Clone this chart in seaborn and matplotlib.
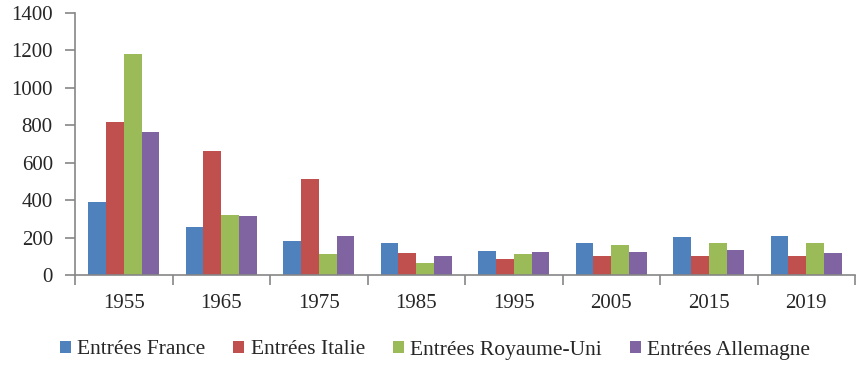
import matplotlib
matplotlib.use("Agg")
import matplotlib.pyplot as plt
import seaborn as sns
import pandas as pd
import numpy as np
from matplotlib.ticker import FixedLocator, NullFormatter

years = ["1955", "1965", "1975", "1985", "1995", "2005", "2015", "2019"]
france = [392, 258, 180, 173, 130, 173, 205, 210]
italie = [819, 663, 514, 120, 88, 104, 104, 104]
royaume_uni = [1182, 322, 113, 66, 113, 162, 172, 172]
allemagne = [766, 316, 209, 103, 124, 124, 136, 119]
series_names = ["Entrées France", "Entrées Italie", "Entrées Royaume-Uni", "Entrées Allemagne"]
colors = ["#4F81BD", "#C0504D", "#9BBB59", "#8064A2"]

rows = []
for name, vals in zip(series_names, [france, italie, royaume_uni, allemagne]):
    for y, v in zip(years, vals):
        rows.append({"annee": y, "serie": name, "valeur": v})
df = pd.DataFrame(rows)

sns.set_style("white")
plt.rcParams["font.family"] = ["Liberation Serif", "DejaVu Serif"]

fig = plt.figure(figsize=(8.65, 3.8), dpi=100)
ax = fig.add_axes([75 / 865, 1 - 275 / 380, 780 / 865, 262 / 380])

sns.barplot(data=df, x="annee", y="valeur", hue="serie", palette=colors,
            width=0.73, saturation=1, linewidth=0, ax=ax, legend=True)

ax.set_xlim(-0.5, 7.5)
ax.set_ylim(0, 1400)
ax.set_yticks(range(0, 1401, 200))
ax.set_xlabel("")
ax.set_ylabel("")

grey = "#868686"
for s in ["top", "right"]:
    ax.spines[s].set_visible(False)
for s in ["left", "bottom"]:
    ax.spines[s].set_color(grey)
    ax.spines[s].set_linewidth(1.2)

ax.tick_params(axis="y", direction="out", length=7, color=grey, width=1.2,
               labelsize=15, pad=9, left=True)
ax.tick_params(axis="x", which="major", length=0, labelsize=15, pad=14)
ax.xaxis.set_minor_locator(FixedLocator(np.arange(-0.5, 8, 1)))
ax.xaxis.set_minor_formatter(NullFormatter())
ax.tick_params(axis="x", which="minor", direction="out", length=7,
               color=grey, width=1.2, bottom=True)

leg = ax.legend(loc="center", bbox_to_anchor=(0.5 - 30 / 780, -75 / 262), ncol=4,
                frameon=False, fontsize=15.5, handlelength=0.5,
                handleheight=0.5, handletextpad=0.3, columnspacing=1.3)

fig.savefig("out.png", dpi=100)
